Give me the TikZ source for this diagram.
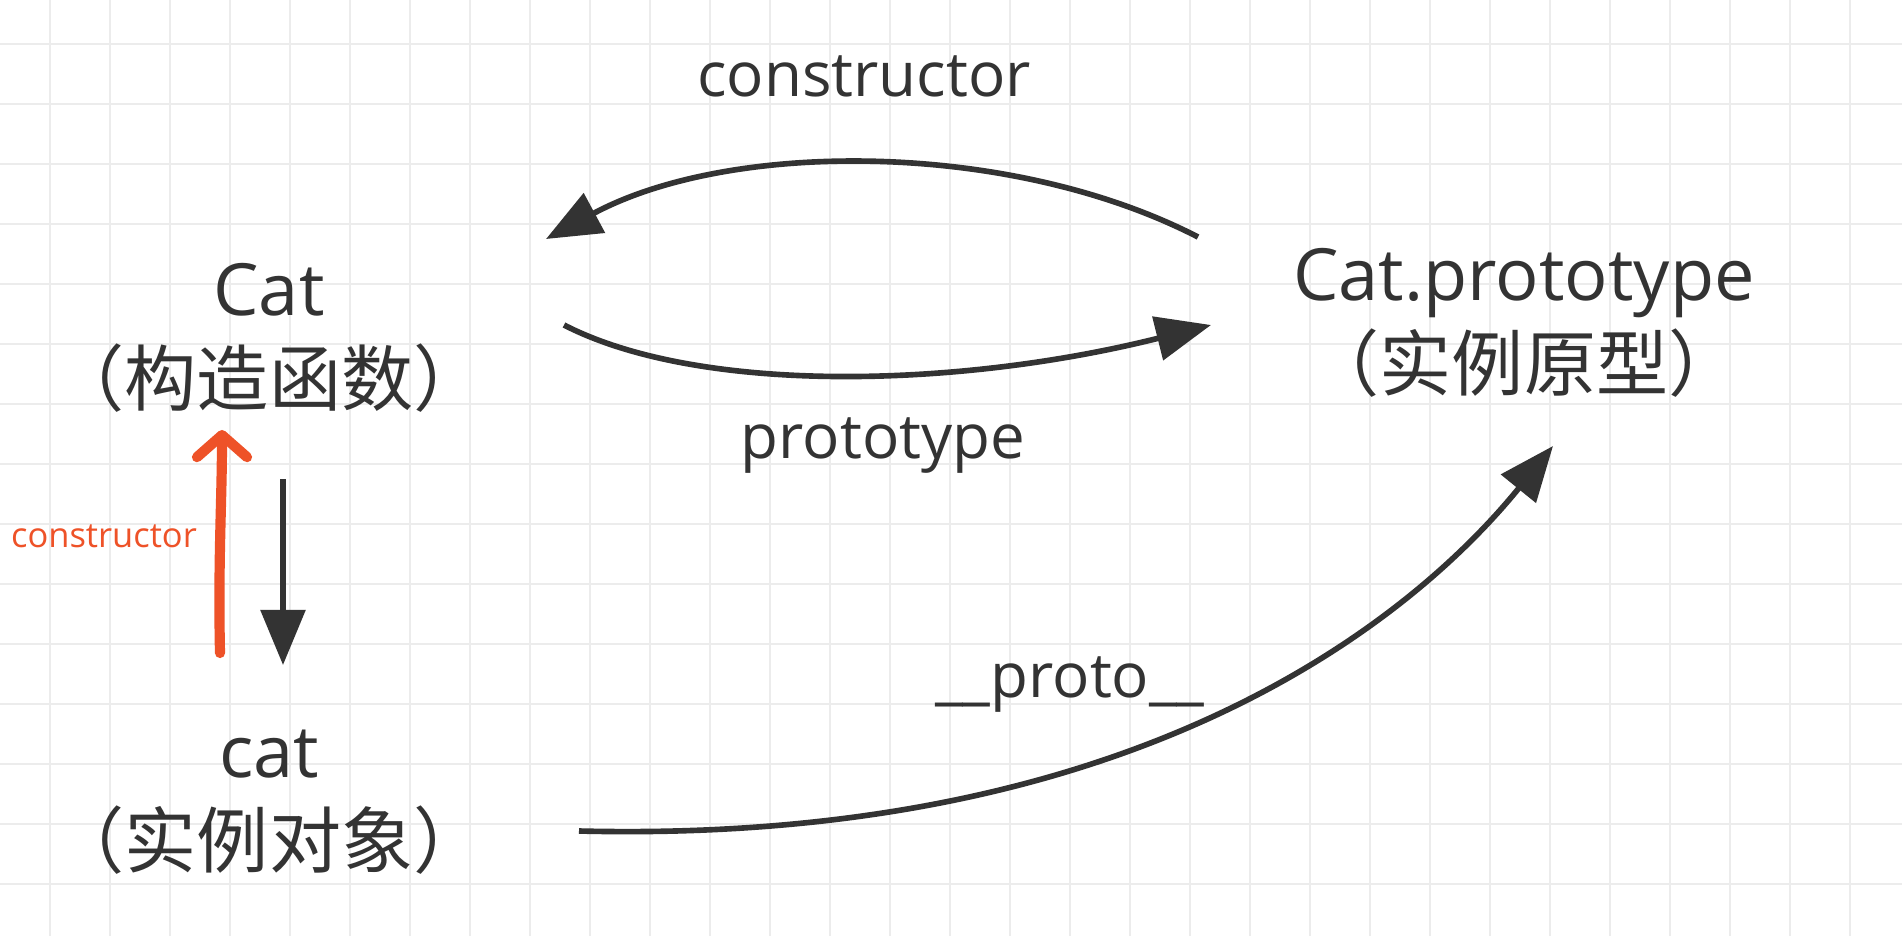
\documentclass[tikz,border=0pt]{standalone}
\usepackage{fontspec}
\setmainfont{Open Sans}
\newfontfamily\cjk{Noto Sans CJK SC}
\usetikzlibrary{arrows.meta}
\definecolor{inkgray}{RGB}{51,51,51}
\definecolor{gridgray}{RGB}{236,236,236}
\definecolor{markred}{RGB}{238,82,40}

\begin{document}
\begin{tikzpicture}[x=0.01cm, y=-0.01cm,
    concept/.style={align=center, text=inkgray, font=\fontsize{20.5}{25.6}\selectfont, inner sep=0pt},
    edgelabel/.style={text=inkgray, font=\fontsize{17.6}{20}\selectfont, inner sep=0pt},
    link/.style={-{Triangle[length=5.5mm, width=4.4mm]}, line width=1.6pt, inkgray},
    gridline/.style={gridgray, line width=0.7pt}]

    \fill[white] (0,0) rectangle (1902,936);
    \useasboundingbox (0,0) rectangle (1902,936);

    % Grid
    \foreach \gx in {50,110,...,1890} { \draw[gridline] (\gx,0) -- (\gx,936); }
    \foreach \gy in {44,104,...,920} { \draw[gridline] (0,\gy) -- (1902,\gy); }

    % Concepts
    \node[concept] (ctor) at (269,338) {Cat\\{\cjk （构造函数）}};
    \node[concept] (proto) at (1524,323) {Cat.prototype\\{\cjk （实例原型）}};
    \node[concept] (inst) at (269,802) {cat\\{\cjk （实例对象）}};

    % Arrow ends
    \coordinate (p2cA) at (1198,237);
    \coordinate (p2cB) at (546,239);
    \coordinate (c2pA) at (564,325);
    \coordinate (c2pB) at (1211,325);
    \coordinate (c2iA) at (283,479);
    \coordinate (c2iB) at (283,665);
    \coordinate (i2cA) at (220,653);
    \coordinate (i2cB) at (222,430);
    \coordinate (i2pA) at (579,831);
    \coordinate (i2pB) at (1553,446);

    % Connections
    \draw[link] (p2cA) .. controls (1010,140) and (730,140) .. (p2cB);
    \draw[link] (c2pA) .. controls (700,395) and (960,388) .. (c2pB);
    \draw[link] (c2iA) -- (c2iB);
    \draw[link] (i2pA) .. controls (1150,845) and (1420,610) .. (i2pB);
    \draw[markred, line width=2.9pt, line cap=round, -{Straight Barb[length=2.2mm, width=5mm, round]}]
        (i2cA) .. controls (218,560) and (222,500) .. (i2cB);

    % Labels
    \node[edgelabel] (lblctor) at (864,76) {constructor};
    \node[edgelabel] (lblproto) at (883,446) {prototype};
    \node[edgelabel] (lbldunder) at (1070,685) {\_\_proto\_\_};
    \node[edgelabel, text=markred, font=\fontsize{9.8}{12}\selectfont] (lblback) at (104,536) {constructor};
\end{tikzpicture}
\end{document}
